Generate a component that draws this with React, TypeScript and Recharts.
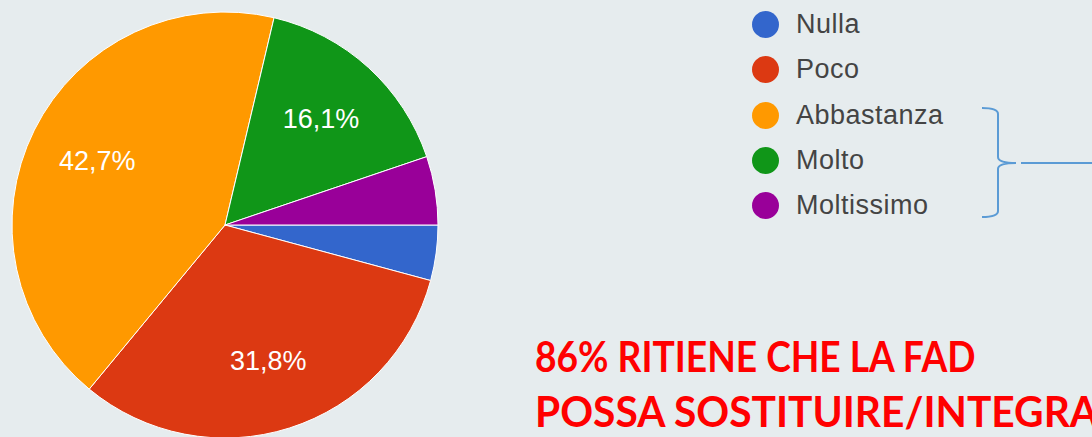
import React from "react";
import { PieChart, Pie, Cell, Legend } from "recharts";

const categories = ["Nulla", "Poco", "Abbastanza", "Molto", "Moltissimo"];
const shares = [4.2, 31.8, 42.7, 16.1, 5.2];
const shareLabels = ["4,2%", "31,8%", "42,7%", "16,1%", "5,2%"];
const colors = ["#3366cc", "#dc3912", "#ff9900", "#109618", "#990099"];

const headline = ["86% RITIENE CHE LA FAD", "POSSA SOSTITUIRE/INTEGRARE"];

const data = categories.map((name, i) => ({
  name,
  value: shares[i],
  label: shareLabels[i],
}));

const RADIAN = Math.PI / 180;

const renderLabel = ({ cx, cy, midAngle, outerRadius, percent, index }: any) => {
  // google hides labels on thin slices
  if (percent < 0.1) return null;
  const r = outerRadius * 0.67;
  const x = cx + r * Math.cos(-midAngle * RADIAN);
  const y = cy + r * Math.sin(-midAngle * RADIAN);
  return (
    <text
      x={x}
      y={y}
      fill="#ffffff"
      textAnchor="middle"
      dominantBaseline="central"
      style={{ fontFamily: "Arial, 'Liberation Sans', sans-serif", fontSize: 27 }}
    >
      {data[index].label}
    </text>
  );
};

const LegendList = () => (
  <div style={{ fontFamily: "Arial, 'Liberation Sans', sans-serif" }}>
    {categories.map((c, i) => (
      <div key={c} style={{ display: "flex", alignItems: "center", height: 45.3 }}>
        <span
          style={{
            width: 27,
            height: 27,
            borderRadius: "50%",
            background: colors[i],
            display: "inline-block",
            marginRight: 17,
          }}
        />
        <span style={{ fontSize: 27, color: "#444", letterSpacing: 0.5 }}>{c}</span>
      </div>
    ))}
  </div>
);

// lato is not calibri, so each line gets squeezed to the width seen in the slide
const lineScale = [0.885, 0.97];

export default function App() {
  return (
    <div
      style={{
        position: "fixed",
        left: 0,
        top: 0,
        width: 1092,
        height: 437,
        background: "#e6ecee",
        overflow: "hidden",
      }}
    >
      <PieChart width={1092} height={437} margin={{ top: 0, right: 0, bottom: 0, left: 0 }}>
        <Pie
          data={data}
          dataKey="value"
          nameKey="name"
          cx={225}
          cy={225}
          outerRadius={213}
          startAngle={0}
          endAngle={-360}
          stroke="#ffffff"
          strokeWidth={1}
          label={renderLabel}
          labelLine={false}
          isAnimationActive={false}
        >
          {data.map((d, i) => (
            <Cell key={d.name} fill={colors[i]} />
          ))}
        </Pie>
        <Legend
          content={<LegendList />}
          wrapperStyle={{ left: 752, top: 2, width: 300 }}
        />
      </PieChart>

      <svg
        width={1092}
        height={437}
        style={{ position: "absolute", left: 0, top: 0, pointerEvents: "none" }}
      >
        <path
          d="M982 108 Q998 108 998 114 L998 157 Q998 163 1016 163 Q998 163 998 169 L998 211 Q998 217 982 217"
          fill="none"
          stroke="#5b9bd5"
          strokeWidth={2}
        />
        <line x1={1021} y1={163} x2={1092} y2={163} stroke="#5b9bd5" strokeWidth={2} />
        {headline.map((t, i) => (
          <g key={t} transform={`translate(535,0) scale(${lineScale[i]},1)`}>
            <text
              x={0}
              y={372 + i * 55}
              fill="#ff0000"
              style={{ fontFamily: "Lato, 'Open Sans', sans-serif", fontWeight: 700, fontSize: 42 }}
            >
              {t}
            </text>
          </g>
        ))}
      </svg>
    </div>
  );
}
